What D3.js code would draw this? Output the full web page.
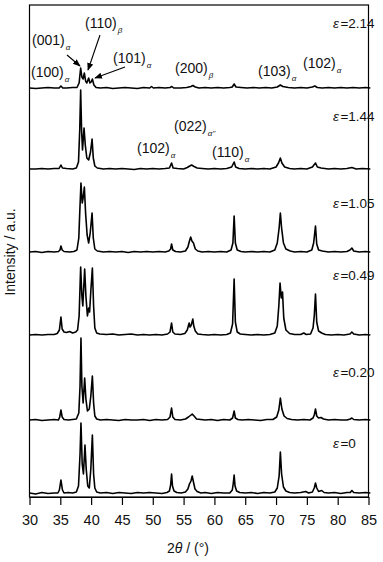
<!DOCTYPE html>
<head>
  <meta charset="utf-8" />
  <script src="https://cdn.jsdelivr.net/npm/d3@7"></script>
  <style>
    body { margin: 0; background: #fff; }
    svg { display: block; font-family: "Liberation Sans", Arial, sans-serif; }
  </style>
</head>
<body>
  <svg width="383" height="562"></svg>
  <script>
    // XRD patterns, 2theta (deg) vs intensity above each pattern's own baseline
    const epsLabels = ["0", "0.20", "0.49", "1.05", "1.44", "2.14"];
    const stackOffset = [3, 76, 161, 244, 327, 408];
    const xTicks = [30, 35, 40, 45, 50, 55, 60, 65, 70, 75, 80, 85];

    const eps0 = [[30,1],[31,0],[32,1.5],[33,0.5],[34,1],[34.6,1],[34.85,4],[35.1,14],[35.35,4],[35.6,1],[36.3,1.5],[37,1],[37.6,2],[37.95,8],[38.2,40],[38.35,71],[38.55,30],[38.75,20],[39.0,49],[39.2,25],[39.45,8],[39.7,6],[39.95,25],[40.2,59],[40.4,20],[40.6,6],[40.9,2],[41.5,1],[42.5,1.5],[43.5,0.5],[44.5,1.5],[45.5,1],[46.5,0.5],[47.5,1.5],[48.5,1],[49.5,1.5],[50.5,1],[51.5,0.5],[52.3,1.5],[52.7,3],[52.9,9],[53.05,20],[53.2,8],[53.45,3],[53.9,1.5],[54.6,1],[55.3,2],[55.7,5],[55.95,10],[56.2,13],[56.4,18],[56.6,12],[56.85,5],[57.2,2.5],[57.8,1],[58.5,1.5],[59.5,0.5],[60.5,1.5],[61.5,1],[62.5,1],[62.9,4],[63.05,10],[63.2,19],[63.35,8],[63.6,3],[64.1,1.5],[65,1],[66,1.5],[67,0.5],[68,1.5],[69,1],[69.8,2],[70.2,6],[70.5,18],[70.7,42],[70.9,20],[71.2,7],[71.6,3],[72.2,1.5],[73,1],[74,1.5],[74.8,2.5],[75.3,1],[75.9,2],[76.2,6],[76.4,11],[76.6,6],[76.9,2.5],[77.4,3.5],[77.8,1.5],[78.5,1],[79.5,1.5],[80.5,0.5],[81.5,1.5],[82.05,1.5],[82.3,3.5],[82.6,1.5],[83.5,1],[84.5,1.5],[85.3,1]];
    const eps020 = [[30,1],[31,1.5],[32,0.5],[33,1],[34,1.5],[34.7,1],[34.9,4],[35.1,11],[35.3,4],[35.6,1.5],[36.3,1],[37,1.5],[37.6,2],[38,8],[38.2,35],[38.35,83],[38.5,35],[38.7,18],[38.95,43],[39.15,22],[39.4,10],[39.7,12],[39.95,25],[40.2,45],[40.4,18],[40.6,5],[40.9,2],[41.5,1],[42.5,1.5],[43.5,1],[44.5,0.5],[45.5,1.5],[46.5,1],[47.5,1],[48.5,1.5],[49.5,0.5],[50.5,1.5],[51.5,1],[52.4,1.5],[52.8,4],[53.05,13],[53.25,4],[53.6,1.5],[54.5,1],[55.3,2],[55.8,4],[56.2,6],[56.4,7],[56.7,5],[57.1,2],[57.8,1.5],[58.5,1],[59.5,1.5],[60.5,0.5],[61.5,1.5],[62.5,1],[62.95,3],[63.2,10],[63.4,3],[63.8,1.5],[64.5,1],[65.5,1.5],[66.5,1],[67.5,0.5],[68.5,1.5],[69.5,1.5],[70.1,4],[70.45,11],[70.7,23],[70.95,12],[71.3,5],[71.8,2.5],[72.5,1.5],[73.5,1],[74.5,1.5],[75.5,1],[76,3],[76.2,6],[76.4,12],[76.6,5],[76.9,3],[77.3,3.5],[77.7,2],[78.5,1],[79.5,1.5],[80.5,1],[81.5,1],[82.05,2],[82.3,3],[82.6,1.5],[83.5,1],[84.5,1.5],[85.3,1]];
    const eps049 = [[30,1],[31,1.5],[32,1],[33,1.5],[34,1.5],[34.5,2.5],[34.85,6],[35.1,19],[35.3,7],[35.6,4],[36,3.5],[36.5,4.5],[37,3],[37.5,4],[37.8,6],[38.05,20],[38.3,69],[38.5,40],[38.65,30],[38.95,67],[39.15,40],[39.4,20],[39.6,28],[39.75,24],[39.95,45],[40.2,68],[40.4,30],[40.6,8],[40.9,3],[41.4,2],[42.5,1.5],[43.5,2],[44.5,1],[45.5,1.5],[46.5,2],[47.5,1],[48.5,1.5],[49.5,1],[50.5,1.5],[51.5,1],[52.4,2],[52.8,4],[53.05,13],[53.25,4],[53.6,2],[54.5,1.5],[55.2,2.5],[55.6,6],[55.9,13],[56.05,9],[56.25,11],[56.5,17],[56.65,10],[56.9,5],[57.3,2],[58,1.5],[59,1],[60,1.5],[61,1],[62,1.5],[62.6,3],[62.95,12],[63.2,57],[63.4,14],[63.7,4],[64.2,2],[65,1.5],[66,1],[67,1.5],[68,1],[69,1.5],[69.8,3],[70.2,10],[70.45,30],[70.65,53],[70.85,38],[71.05,44],[71.25,18],[71.6,6],[72.2,2.5],[73,1.5],[74,1.5],[74.5,3],[74.9,1.5],[75.6,2],[76,8],[76.2,20],[76.4,42],[76.6,14],[76.9,5],[77.4,3],[78,1.5],[79,1],[80,1.5],[81,1],[82,2],[82.3,4],[82.6,2],[83.5,1],[84.5,1.5],[85.3,1]];
    const eps105 = [[30,1],[31,1.5],[32,0.5],[33,1.5],[34,1],[34.7,1.5],[34.95,3],[35.1,7],[35.3,3],[35.6,1.5],[36.5,1],[37.2,1.5],[37.7,3],[38,15],[38.15,40],[38.35,70],[38.55,50],[38.7,55],[38.9,66],[39.1,40],[39.35,18],[39.6,10],[39.85,20],[40.15,40],[40.35,15],[40.6,4],[41,2],[42,1],[43,1.5],[44,1],[45,1.5],[46,0.5],[47,1.5],[48,1],[49,1.5],[50,1],[51,1.5],[52,1],[52.6,2],[52.9,4],[53.05,9],[53.25,3],[53.7,1.5],[54.5,1],[55.3,2],[55.7,6],[55.95,12],[56.15,16],[56.35,12],[56.6,10],[56.9,4],[57.3,2],[58,1],[59,1.5],[60,1],[61,1.5],[62,1],[62.7,3],[63,10],[63.2,37],[63.4,10],[63.7,3],[64.3,1.5],[65,1],[66,1.5],[67,1],[68,1.5],[69,1],[69.8,3],[70.2,10],[70.5,25],[70.7,40],[70.9,25],[71.2,10],[71.6,4],[72.3,2],[73,1],[74,1.5],[75,1],[75.8,3],[76.1,10],[76.4,27],[76.6,9],[76.9,3],[77.5,2],[78.5,1],[79.5,1.5],[80.5,1],[81.5,1.5],[82,3],[82.3,5],[82.6,2],[83.5,1],[84.5,1.5],[85.3,1]];
    const eps144 = [[30,1],[31,1],[32,1.5],[33,1],[34,1.5],[34.8,1.5],[35.1,5],[35.35,2],[36,1.5],[37,1],[37.6,2],[37.95,8],[38.15,40],[38.3,80],[38.45,40],[38.6,20],[38.85,42],[39.05,25],[39.3,12],[39.6,10],[39.9,18],[40.15,31],[40.35,12],[40.6,4],[41,2],[42,1],[43,1.5],[44,1],[45,1.5],[46,1],[47,0.5],[48,1.5],[49,1],[50,1.5],[51,1],[52,1.5],[52.7,2],[53.05,7],[53.3,2],[54,1.5],[55,1],[55.6,2.5],[56,4],[56.3,5],[56.7,3.5],[57.2,2],[58,1.5],[59,1],[60,1.5],[61,1],[62,1.5],[62.8,3],[63.2,8],[63.45,3],[64,1.5],[65,1],[66,1.5],[67,1],[68,1.5],[69,1],[70,3],[70.4,7],[70.7,12],[70.95,7],[71.4,3],[72.2,1.5],[73,1],[74,1.5],[75,1],[75.9,3],[76.4,7],[76.7,3],[77.3,2],[78.5,1],[79.5,1.5],[80.5,1],[81.5,1.5],[82.3,2.5],[83,1],[84,1.5],[85.3,1]];
    const eps214 = [[30,1],[31,0.5],[32,1],[33,1.5],[34,1],[34.8,1],[35.1,3],[35.4,1],[36,1],[37,1.5],[37.7,1.5],[38.05,6],[38.3,21],[38.5,12],[38.7,10],[38.9,16],[39.1,8],[39.3,6],[39.6,11],[39.8,6],[40.0,7],[40.2,10],[40.45,4],[40.8,1.5],[41.5,1],[42.5,1.5],[43.5,0.5],[44.5,1],[45.5,1.5],[46.5,1],[47.5,0.5],[48.5,1.5],[49.5,1],[49.8,2.5],[50.1,1],[51,1.5],[52,1],[52.8,1.5],[53.1,2.5],[53.4,1],[54.5,1],[55.5,1.5],[56.2,2.5],[56.5,3.5],[56.9,2],[57.5,1],[58.5,1.5],[59.5,1],[60.5,1.5],[61.5,1],[62.5,1.5],[62.9,2],[63.2,5],[63.5,2],[64.3,1.5],[65.3,1],[66.3,1.5],[67.3,1],[68.3,1.5],[69.3,1],[70.2,2],[70.7,4],[71.1,2.5],[72,1.5],[73,1],[74,1.5],[75,1],[75.9,2],[76.3,3],[76.7,1.5],[77.5,1],[78.5,1.5],[79.5,1],[80.5,1.5],[81.5,1],[82.5,1.5],[83.5,1],[84.5,1.5],[85.3,1]];
    const patterns = [eps0, eps020, eps049, eps105, eps144, eps214];

    // peak labels: [text, subscript, x, baseline y]
    const peakLabels = [
      ["(100)", "α", 31, 77], ["(001)", "α", 32, 45], ["(110)", "β", 85, 28],
      ["(101)", "α", 113, 63], ["(200)", "β", 175, 73], ["(103)", "α", 258, 76],
      ["(102)", "α", 303, 68], ["(102)", "α", 137, 153], ["(022)", "α''", 174, 131],
      ["(110)", "α", 212, 157]
    ];
    const arrows = [[67, 55, 80, 66], [100, 35, 88, 70], [125, 67, 95, 78]];
    const epsY = [448, 377, 280, 208, 121, 28];

    const svg = d3.select("svg");
    const pLeft = 29.5, pRight = 368.5, pTop = 5, pBottom = 497;

    const x = d3.scaleLinear().domain([30, 85]).range([pLeft, pRight]);
    const y = d3.scaleLinear().domain([0, 492]).range([pBottom, pTop]);

    svg.append("defs").append("marker")
      .attr("id", "ah").attr("viewBox", "0 0 10 10")
      .attr("refX", 9).attr("refY", 5)
      .attr("markerWidth", 7).attr("markerHeight", 7)
      .attr("orient", "auto")
      .append("path").attr("d", "M0,1 L10,5 L0,9 z").attr("fill", "#000");

    const line = d3.line();
    patterns.forEach((p, i) => {
      svg.append("path")
        .attr("d", line(p.map(d => [x(d[0]), y(d[1] + stackOffset[i])])))
        .attr("fill", "none")
        .attr("stroke", "#000")
        .attr("stroke-width", 1.6)
        .attr("stroke-linejoin", "round");
    });

    svg.append("rect")
      .attr("x", pLeft).attr("y", pTop)
      .attr("width", pRight - pLeft).attr("height", pBottom - pTop)
      .attr("fill", "none").attr("stroke", "#000").attr("stroke-width", 1.2);

    const xAxis = d3.axisBottom(x).tickValues(xTicks).tickSize(8).tickPadding(10).tickSizeOuter(0);
    const gx = svg.append("g").attr("transform", `translate(0,${pBottom})`).call(xAxis);
    gx.select(".domain").attr("stroke", "#000");
    gx.selectAll(".tick line").attr("stroke", "#000").attr("stroke-width", 1.2);
    gx.selectAll("text").attr("font-size", 14.5).attr("fill", "#111")
      .attr("font-family", "Liberation Sans, Arial, sans-serif");

    // axis titles
    const xt = svg.append("text").attr("x", 188).attr("y", 553)
      .attr("text-anchor", "middle").attr("font-size", 14).attr("fill", "#111");
    xt.append("tspan").text("2");
    xt.append("tspan").attr("font-style", "italic").text("θ");
    xt.append("tspan").text(" / (°)");

    svg.append("text")
      .attr("transform", "translate(15,252) rotate(-90)")
      .attr("text-anchor", "middle").attr("font-size", 14).attr("fill", "#111")
      .text("Intensity / a.u.");

    // strain labels
    epsLabels.forEach((e, i) => {
      const t = svg.append("text").attr("x", 333).attr("y", epsY[i])
        .attr("font-size", 13.5).attr("fill", "#111");
      t.append("tspan").attr("font-style", "italic").text("ε");
      t.append("tspan").attr("dx", 1.5).text("=" + e);
    });

    peakLabels.forEach(d => {
      const t = svg.append("text").attr("x", d[2]).attr("y", d[3])
        .attr("font-size", 14).attr("fill", "#111");
      t.append("tspan").text(d[0]);
      t.append("tspan").attr("dx", 1).attr("dy", 5)
        .attr("font-size", 8).attr("font-style", "italic").text(d[1]);
    });

    arrows.forEach(a => {
      svg.append("line")
        .attr("x1", a[0]).attr("y1", a[1]).attr("x2", a[2]).attr("y2", a[3])
        .attr("stroke", "#000").attr("stroke-width", 1.1)
        .attr("marker-end", "url(#ah)");
    });
  </script>
</body>
